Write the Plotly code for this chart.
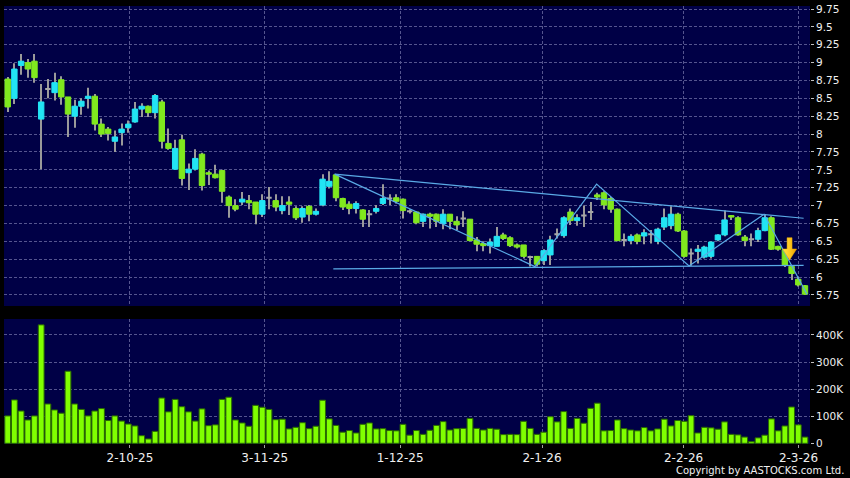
import plotly.graph_objects as go

# ---------------- data ----------------
bar_index = list(range(120))

opens = [8.77, 8.50, 8.96, 9.00, 9.02, 8.21, 8.63, 8.58, 8.76, 8.52,
         8.25, 8.39, 8.50, 8.53, 8.14, 8.07, 7.90, 8.02, 8.09, 8.17,
         8.35, 8.39, 8.30, 8.45, 7.87, 7.51, 7.92, 7.46, 7.51, 7.72,
         7.46, 7.44, 7.49, 7.12, 7.00, 7.05, 7.07, 7.05, 6.88, 7.11,
         7.07, 6.93, 7.05, 6.96, 6.84, 6.99, 6.88, 7.01, 7.27, 7.43,
         7.10, 7.02, 6.96, 6.94, 6.88, 6.92, 7.03, 7.10, 7.11, 7.09,
         6.92, 6.91, 6.78, 6.88, 6.88, 6.75, 6.88, 6.78, 6.82, 6.81,
         6.52, 6.47, 6.44, 6.43, 6.59, 6.55, 6.45, 6.45, 6.28, 6.29,
         6.23, 6.31, 6.60, 6.58, 6.91, 6.79, 6.86, 6.91, 7.15, 7.18,
         7.10, 6.95, 6.52, 6.51, 6.59, 6.575, 6.60, 6.50, 6.70, 6.72,
         6.88, 6.645, 6.33, 6.36, 6.28, 6.29, 6.52, 6.59, 6.86, 6.83,
         6.56, 6.53, 6.53, 6.65, 6.83, 6.43, 6.38, 6.15, 5.97, 5.88]
highs = [8.80, 8.99, 9.12, 9.05, 9.12, 8.70, 8.77, 8.86, 8.81, 8.52,
         8.48, 8.50, 8.65, 8.56, 8.22, 8.10, 8.05, 8.15, 8.19, 8.45,
         8.43, 8.40, 8.56, 8.48, 8.08, 7.92, 7.99, 7.59, 7.79, 7.74,
         7.49, 7.57, 7.50, 7.14, 7.09, 7.19, 7.15, 7.05, 7.16, 7.26,
         7.16, 7.13, 7.13, 6.99, 6.99, 7.01, 6.96, 7.44, 7.48, 7.44,
         7.11, 7.06, 7.06, 6.95, 6.94, 7.01, 7.30, 7.16, 7.16, 7.10,
         6.95, 6.92, 6.89, 6.90, 6.89, 6.95, 6.88, 6.85, 6.92, 6.81,
         6.56, 6.50, 6.54, 6.70, 6.62, 6.57, 6.47, 6.45, 6.30, 6.29,
         6.39, 6.58, 6.68, 6.85, 6.96, 6.88, 7.00, 7.05, 7.18, 7.20,
         7.12, 6.96, 6.61, 6.60, 6.61, 6.67, 6.66, 6.69, 6.96, 6.99,
         6.90, 6.66, 6.40, 6.45, 6.44, 6.50, 6.60, 6.93, 6.87, 6.85,
         6.59, 6.61, 6.69, 6.88, 6.85, 6.44, 6.39, 6.16, 6.00, 5.89]
lows = [8.31, 8.42, 8.83, 8.79, 8.72, 7.51, 8.50, 8.47, 8.41, 7.96,
        8.09, 8.27, 8.36, 8.05, 7.96, 7.91, 7.75, 7.84, 8.02, 8.16,
        8.24, 8.24, 8.22, 7.80, 7.78, 7.50, 7.28, 7.22, 7.49, 7.21,
        7.29, 7.38, 7.04, 6.83, 6.92, 7.01, 6.95, 6.74, 6.84, 6.95,
        6.92, 6.88, 6.87, 6.80, 6.76, 6.78, 6.86, 6.99, 7.24, 7.06,
        6.94, 6.88, 6.89, 6.70, 6.70, 6.89, 7.01, 7.01, 7.03, 6.82,
        6.89, 6.74, 6.70, 6.68, 6.70, 6.67, 6.67, 6.66, 6.70, 6.50,
        6.36, 6.36, 6.33, 6.43, 6.52, 6.42, 6.40, 6.26, 6.15, 6.15,
        6.17, 6.17, 6.54, 6.55, 6.73, 6.72, 6.70, 6.80, 7.08, 6.95,
        6.90, 6.50, 6.43, 6.46, 6.46, 6.46, 6.47, 6.46, 6.66, 6.67,
        6.63, 6.27, 6.16, 6.19, 6.26, 6.26, 6.50, 6.57, 6.80, 6.58,
        6.43, 6.43, 6.49, 6.64, 6.38, 6.37, 6.14, 5.96, 5.87, 5.75]
closes = [8.38, 8.91, 9.02, 8.91, 8.79, 8.45, 8.63, 8.72, 8.52, 8.28,
          8.39, 8.46, 8.53, 8.14, 8.00, 8.01, 7.96, 8.07, 8.14, 8.35,
          8.39, 8.30, 8.54, 7.90, 7.80, 7.80, 7.38, 7.51, 7.66, 7.28,
          7.44, 7.39, 7.20, 7.00, 6.95, 7.09, 7.04, 6.88, 7.07, 7.11,
          6.98, 7.00, 7.02, 6.83, 6.96, 6.88, 6.92, 7.37, 7.34, 7.11,
          6.98, 6.96, 7.03, 6.81, 6.88, 6.96, 7.10, 7.10, 7.06, 6.93,
          6.92, 6.76, 6.88, 6.85, 6.78, 6.88, 6.78, 6.73, 6.82, 6.51,
          6.46, 6.44, 6.49, 6.57, 6.54, 6.44, 6.42, 6.29, 6.28, 6.18,
          6.37, 6.52, 6.60, 6.83, 6.79, 6.83, 6.86, 6.91, 7.12, 7.01,
          6.95, 6.51, 6.52, 6.57, 6.50, 6.62, 6.60, 6.67, 6.83, 6.88,
          6.645, 6.29, 6.33, 6.39, 6.42, 6.49, 6.59, 6.80, 6.84, 6.59,
          6.51, 6.53, 6.65, 6.83, 6.39, 6.39, 6.17, 6.05, 5.89, 5.76]
volumes_k = [101, 160, 119, 86, 101, 437, 145, 123, 111, 266,
             145, 125, 101, 119, 128, 84, 101, 82, 71, 64,
             28, 16, 44, 167, 116, 162, 135, 116, 82, 127,
             65, 68, 162, 170, 86, 75, 63, 140, 133, 125,
             87, 89, 53, 59, 76, 54, 63, 159, 90, 66,
             41, 47, 38, 70, 75, 53, 54, 47, 46, 70,
             30, 47, 33, 48, 66, 80, 49, 54, 55, 92,
             55, 49, 55, 52, 32, 33, 32, 81, 55, 33,
             41, 98, 79, 117, 55, 92, 74, 129, 148, 46,
             47, 86, 54, 49, 46, 58, 46, 53, 89, 64,
             84, 81, 102, 38, 59, 57, 52, 79, 33, 31,
             23, 6, 20, 30, 90, 46, 64, 134, 68, 23]

date_tick_labels = ["2-10-25", "3-11-25", "1-12-25", "2-1-26", "2-2-26", "2-3-26"]
date_tick_pos = [18.25, 38.36, 58.57, 79.75, 100.88, 118.03]
price_tick_values = [5.75, 6.0, 6.25, 6.5, 6.75, 7.0, 7.25, 7.5, 7.75,
                     8.0, 8.25, 8.5, 8.75, 9.0, 9.25, 9.5, 9.75]
volume_tick_values = [0, 100000, 200000, 300000, 400000]
volume_tick_labels = ["0", "100K", "200K", "300K", "400K"]

# drawn trend lines (anchor points)
upper_line_x = [48.8, 118.8]
upper_line_y = [7.44, 6.823]
lower_line_x = [48.6, 118.8]
lower_line_y = [6.114, 6.165]
zigzag_x = [48.8, 78.7, 87.9, 101.7, 112.9, 119.3]
zigzag_y = [7.44, 6.146, 7.30, 6.156, 6.879, 5.76]

# signal arrow
arrow_x = 116.7
arrow_top = 6.551
arrow_head_base = 6.393
arrow_tip = 6.24

# ---------------- styles ----------------
CYAN = "#22e4f4"
GREEN = "#80e81e"
DOJI = "#a8a8a8"
WICK = "#9a9a9a"
VOL = "#80ff00"
VOL_EDGE = "#2a6a00"
LINE = "#5aaae6"
GRID = "#55558f"
TXT = "#f0f0f0"
FONT = "DejaVu Sans"

fig = go.Figure()

# wicks (gray), drawn beneath the bodies
fig.add_trace(go.Bar(
    x=bar_index, base=lows, y=[h - l for h, l in zip(highs, lows)],
    width=0.15, marker=dict(color=WICK, line=dict(width=0)),
    xaxis="x", yaxis="y", hoverinfo="skip", showlegend=False))


def subset(cond):
    ids = [i for i in bar_index if cond(opens[i], closes[i])]
    return dict(
        x=ids,
        open=[opens[i] for i in ids],
        close=[closes[i] for i in ids],
        high=[max(opens[i], closes[i]) for i in ids],
        low=[min(opens[i], closes[i]) for i in ids],
    )


for cond, col, lw in [(lambda o, c: c > o, CYAN, 1),
                      (lambda o, c: c < o, GREEN, 1),
                      (lambda o, c: c == o, DOJI, 2)]:
    d = subset(cond)
    fig.add_trace(go.Candlestick(
        **d,
        increasing=dict(line=dict(color=col, width=lw), fillcolor=col),
        decreasing=dict(line=dict(color=col, width=lw), fillcolor=col),
        whiskerwidth=0, xaxis="x", yaxis="y", showlegend=False))

# trend lines
for xs, ys in [(upper_line_x, upper_line_y), (lower_line_x, lower_line_y),
               (zigzag_x, zigzag_y)]:
    fig.add_trace(go.Scatter(x=xs, y=ys, mode="lines",
                             line=dict(color=LINE, width=1.2),
                             xaxis="x", yaxis="y", hoverinfo="skip",
                             showlegend=False))

# arrow
sw, hw = 0.37, 1.05
ax_pts = [arrow_x - sw, arrow_x + sw, arrow_x + sw, arrow_x + hw, arrow_x,
          arrow_x - hw, arrow_x - sw, arrow_x - sw]
ay_pts = [arrow_top, arrow_top, arrow_head_base, arrow_head_base, arrow_tip,
          arrow_head_base, arrow_head_base, arrow_top]
fig.add_trace(go.Scatter(
    x=ax_pts, y=ay_pts, mode="lines", fill="toself",
    line=dict(color="#f2b000", width=0.5),
    fillgradient=dict(type="horizontal",
                      colorscale=[[0, "#ffe848"], [0.5, "#ffc820"], [1, "#ec9c00"]]),
    xaxis="x", yaxis="y", hoverinfo="skip", showlegend=False))

# volume
fig.add_trace(go.Bar(
    x=bar_index, y=[v * 1000 for v in volumes_k], width=0.86,
    marker=dict(color=VOL, line=dict(color=VOL_EDGE, width=1)),
    xaxis="x2", yaxis="y2", hoverinfo="skip", showlegend=False))

grid_common = dict(showgrid=True, gridcolor=GRID, gridwidth=1, griddash="3px,2px",
                   zeroline=False, showline=False)

fig.update_layout(
    width=850, height=478,
    margin=dict(l=4, r=40, t=6, b=34),
    paper_bgcolor="#000000", plot_bgcolor="#000046",
    showlegend=False, barmode="overlay", boxgap=0.15, boxgroupgap=0.05,
    font=dict(family=FONT, color=TXT),
    xaxis=dict(domain=[0, 1], anchor="y", range=[-0.55, 119.75],
               tickvals=date_tick_pos, showticklabels=False, ticks="",
               rangeslider=dict(visible=False), **grid_common),
    xaxis2=dict(domain=[0, 1], anchor="y2", range=[-0.55, 119.75],
                tickvals=date_tick_pos, ticktext=date_tick_labels,
                ticks="outside", ticklen=3, tickcolor="#a0a0a0",
                tickfont=dict(family=FONT, size=12, color=TXT), **grid_common),
    yaxis=dict(domain=[0.3151, 1], anchor="x", range=[5.596, 9.792], side="right",
               tickvals=price_tick_values,
               ticktext=[f"{v:g}" for v in price_tick_values],
               ticks="outside", ticklen=3, tickcolor="#c0c0c0",
               tickfont=dict(family=FONT, size=10.5, color=TXT), **grid_common),
    yaxis2=dict(domain=[0, 0.2854], anchor="x2", range=[-2600, 458700], side="right",
                tickvals=volume_tick_values, ticktext=volume_tick_labels,
                ticks="outside", ticklen=3, tickcolor="#c0c0c0",
                tickfont=dict(family=FONT, size=10.5, color=TXT), **grid_common),
    annotations=[dict(text="Copyright by AASTOCKS.com Ltd.", xref="paper", yref="paper",
                      x=1.0447, y=-0.0616, xanchor="right", yanchor="middle",
                      showarrow=False, font=dict(family=FONT, size=10, color=TXT))],
)

fig.write_html(
    "out.html",
    config={"displayModeBar": False},
    post_script="document.body.style.margin='0px';document.body.style.padding='0px';"
                "document.body.style.background='#000000';",
)
